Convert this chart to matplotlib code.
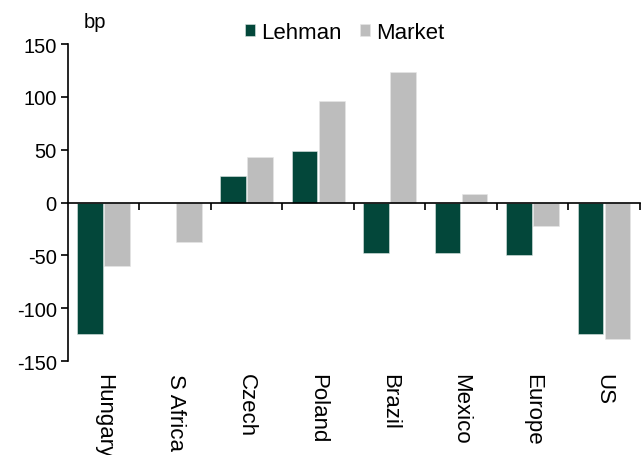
import numpy as np
import matplotlib.pyplot as plt

plt.rcParams['font.family'] = ['Liberation Sans', 'DejaVu Sans']
plt.rcParams['axes.unicode_minus'] = False

# data (bp)
countries = ['Hungary', 'S Africa', 'Czech', 'Poland', 'Brazil', 'Mexico', 'Europe', 'US']
lehman = [-124, 0, 25, 49, -48, -48, -50, -124]
market = [-60, -37, 43, 96, 124, 8, -22, -129]

green = '#03473a'
grey = '#bdbdbd'

fig = plt.figure(figsize=(6.41, 4.56), dpi=100)
ax = fig.add_axes([0.106, 0.206, 0.892, 0.695])

x = np.arange(len(countries))
w = 0.36
ax.bar(x - 0.19, lehman, w, color=green, edgecolor='#dfe8e5', linewidth=0.4, label='Lehman')
ax.bar(x + 0.19, market, w, color=grey, edgecolor='#e6e6e6', linewidth=0.4, label='Market')

ax.set_ylim(-150, 150)
ax.set_yticks([-150, -100, -50, 0, 50, 100, 150])
ax.set_xlim(-0.5, len(countries) - 0.5)

# x axis sits on zero, ticks on category boundaries
ax.spines['top'].set_visible(False)
ax.spines['right'].set_visible(False)
ax.spines['bottom'].set_position(('data', 0))
ax.spines['bottom'].set_zorder(3)
ax.spines['left'].set_linewidth(1.2)
ax.spines['bottom'].set_linewidth(1.2)
ax.set_xticks(np.append(x[1:] - 0.5, len(countries) - 0.5))
ax.set_xticklabels([])
ax.tick_params(axis='x', direction='out', length=5, width=1.2)
ax.tick_params(axis='y', direction='out', length=5, width=1.2, labelsize=14.5, pad=3)

# category names under the plot, rotated (Hungary runs off the bottom as in the original)
for i, c in enumerate(countries):
    ax.text(i, -161, c, rotation=270, ha='center', va='top', fontsize=16)

fig.text(0.13, 0.95, 'bp', fontsize=14.5, ha='left', va='center')
ax.legend(loc='center', bbox_to_anchor=(0.484, 1.038), ncol=2, frameon=False,
          fontsize=16, handlelength=0.45, handleheight=0.45, handletextpad=0.3,
          columnspacing=0.8, borderaxespad=0)

fig.savefig('out.png', dpi=100)
